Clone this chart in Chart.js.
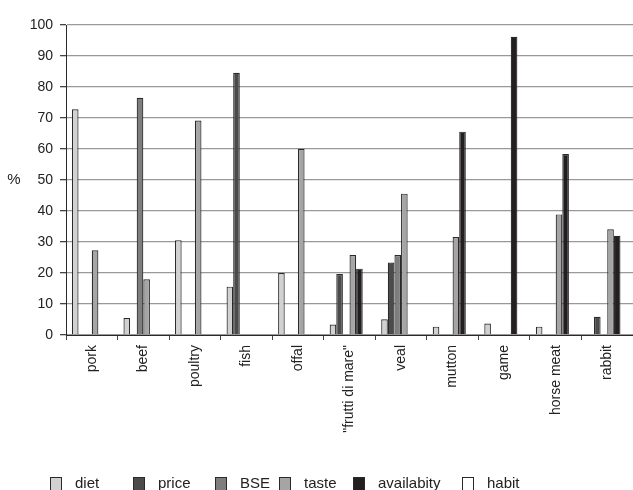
<!DOCTYPE html>
<html>
<head>
<meta charset="utf-8">
<script src="https://cdn.jsdelivr.net/npm/chart.js@4/dist/chart.umd.min.js"></script>
<style>
  html, body { margin: 0; padding: 0; background: #fff; }
  #wrap { width: 633px; height: 490px; position: relative; }
</style>
</head>
<body>
<div id="wrap"><canvas id="c" width="633" height="490"></canvas></div>
<script>
// Reasons for not eating each kind of meat (%)
const categories = ['pork', 'beef', 'poultry', 'fish', 'offal', '"frutti di mare"', 'veal', 'mutton', 'game', 'horse meat', 'rabbit'];

const diet         = [72.8, 5.5, 30.6, 15.6, 20.0, 3.4, 5.1, 2.7, 3.7, 2.7, null];
const price        = [null, null, null, 84.6, null, 19.7, 23.4, null, null, null, 5.9];
const bse          = [null, 76.5, null, null, null, null, 25.8, null, null, null, null];
const taste        = [27.3, 18.0, 69.2, null, 60.1, 25.8, 45.6, 31.6, null, 38.9, 34.1];
const availability = [null, null, null, null, null, 21.4, null, 65.6, 96.2, 58.4, 32.0];
const habit        = [null, null, null, null, null, null, null, null, null, null, null];

const seriesNames  = ['diet', 'price', 'BSE', 'taste', 'availabity', 'habit'];
const seriesColors = ['#d1d1d1', '#4b4b4b', '#7e7e7e', '#a5a5a5', '#231f20', '#ffffff'];
const yTicks = [0, 10, 20, 30, 40, 50, 60, 70, 80, 90, 100];

const FONT = '"Arial Narrow", "Liberation Sans", Arial, sans-serif';

const seriesData = [diet, price, bse, taste, availability, habit];
const datasets = seriesNames.map((name, i) => ({
  label: name,
  data: seriesData[i],
  backgroundColor: seriesColors[i],
  borderColor: '#2a2a2a',
  borderWidth: 1.2,
  categoryPercentage: 0.77,
  barPercentage: 1.0
}));

// "%" axis label (horizontal) and a bottom legend with its own spacing
const extras = {
  id: 'extras',
  afterDraw(chart, args, opts) {
    const ctx = chart.ctx;
    const area = chart.chartArea;
    ctx.save();
    ctx.fillStyle = '#222';
    ctx.font = '15px ' + FONT;
    ctx.textAlign = 'center';
    ctx.textBaseline = 'middle';
    ctx.fillText('%', 14, (area.top + area.bottom) / 2);

    ctx.textAlign = 'left';
    const y = opts.legendY;
    chart.data.datasets.forEach((ds, i) => {
      const x = opts.legendX[i];
      ctx.fillStyle = ds.backgroundColor;
      ctx.fillRect(x + 0.5, y - 6.5, 11, 13);
      ctx.strokeStyle = '#2a2a2a';
      ctx.lineWidth = 1;
      ctx.strokeRect(x + 0.5, y - 6.5, 11, 13);
      ctx.fillStyle = '#222';
      ctx.fillText(ds.label, x + 25, y);
    });
    ctx.restore();
  }
};

new Chart(document.getElementById('c'), {
  type: 'bar',
  data: { labels: categories, datasets },
  plugins: [extras],
  options: {
    responsive: false,
    animation: false,
    layout: { padding: { top: 25, right: 0, bottom: 0, left: 0 } },
    plugins: {
      legend: { display: false },
      tooltip: { enabled: false },
      extras: { legendX: [50, 133, 215, 279, 353, 462], legendY: 484 }
    },
    scales: {
      x: {
        afterFit(scale) { scale.height = 155; },
        border: { display: true, color: '#2a2a2a', width: 1 },
        grid: { offset: true, drawOnChartArea: false, drawTicks: true, tickLength: 5, color: '#444' },
        ticks: {
          color: '#222',
          font: { family: FONT, size: 14 },
          minRotation: 90,
          maxRotation: 90,
          padding: 5,
          autoSkip: false
        }
      },
      y: {
        min: 0,
        max: 100,
        afterFit(scale) { scale.width = 66; },
        afterBuildTicks(scale) { scale.ticks = yTicks.map(v => ({ value: v })); },
        border: { display: true, color: '#2a2a2a', width: 1 },
        grid: { color: '#999', lineWidth: 1.3, tickLength: 6, tickColor: '#444' },
        ticks: {
          color: '#222',
          font: { family: FONT, size: 14 },
          padding: 7
        }
      }
    }
  }
});
</script>
</body>
</html>
